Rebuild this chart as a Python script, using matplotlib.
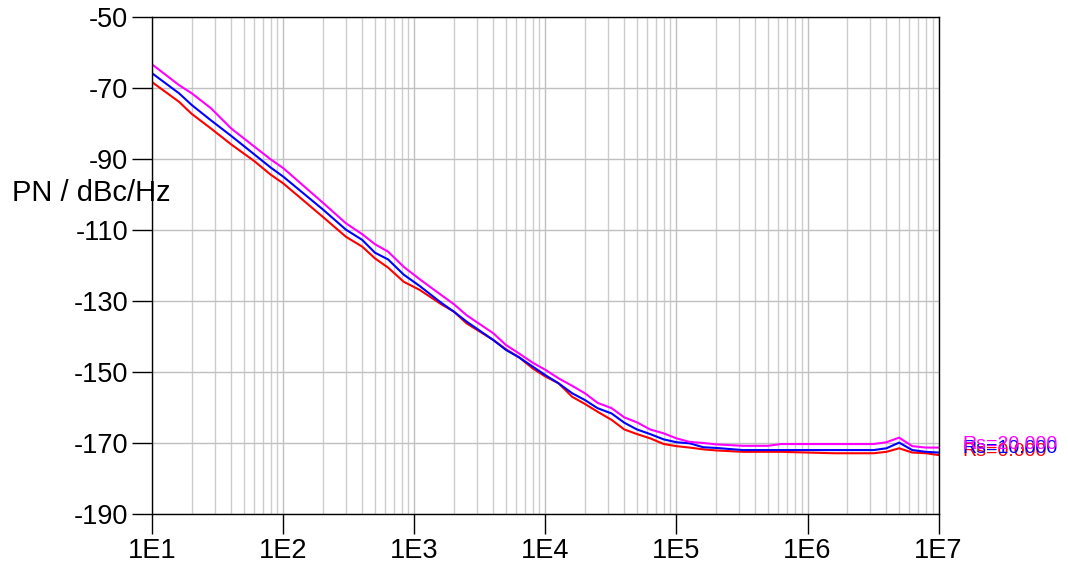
import numpy as np
import matplotlib
matplotlib.use('Agg')
from matplotlib import pyplot as plt
from matplotlib import ticker

plt.rcParams['font.family'] = ['Liberation Sans', 'DejaVu Sans']
plt.rcParams['axes.unicode_minus'] = False

# Offset frequencies in Hz.
FREQ_HZ = [10, 16, 20, 28, 40, 60, 80, 100, 200, 300, 400, 500, 630, 830,
           1100, 1600, 2000, 2500, 4000, 5000, 6300, 8000,
           1e4, 1.26e4, 1.6e4, 2e4, 2.5e4, 3.2e4, 4e4, 5e4, 6.3e4, 8e4,
           1e5, 1.26e5, 1.6e5, 2e5, 3.2e5, 5e5, 6.3e5,
           1.6e6, 2e6, 3.2e6, 4e6, 5e6, 6.3e6, 8e6, 1e7]

# Phase noise in dBc/Hz for the three Rs values.
PN_RS0 = [-68.3, -73.8, -77.2, -81.3, -85.8, -90.5, -94.3, -96.8, -106.2,
          -111.8, -114.6, -117.9, -120.5, -124.5,
          -126.8, -130.8, -132.9, -136.2, -140.9, -143.5, -145.8, -148.9,
          -151.2, -153.1, -156.9, -158.9, -161.1, -163.4, -166.1, -167.4,
          -168.6, -170.2,
          -170.8, -171.2, -171.7, -172.0, -172.4, -172.4, -172.4,
          -172.8, -172.8, -172.8, -172.4, -171.4, -172.6, -172.8, -173.3]

PN_RS10 = [-65.8, -71.4, -74.7, -79.0, -83.4, -88.6, -92.3, -94.9, -104.1,
           -109.8, -112.7, -116.3, -118.2, -122.5,
           -125.7, -130.4, -132.9, -135.7, -140.9, -143.7, -145.8, -148.4,
           -150.8, -153.1, -155.9, -157.8, -160.1, -161.6, -164.2, -166.1,
           -167.4, -168.9,
           -169.7, -170.0, -171.1, -171.3, -171.9, -171.9, -171.9,
           -171.9, -171.9, -171.9, -171.4, -169.8, -171.9, -172.4, -172.6]

PN_RS20 = [-63.3, -69.1, -71.4, -75.6, -81.3, -86.4, -90.0, -92.5, -102.2,
           -108.0, -111.1, -113.9, -116.0, -120.3,
           -123.8, -128.2, -130.8, -133.9, -139.0, -142.3, -144.7, -147.3,
           -149.3, -151.7, -153.8, -155.9, -158.6, -160.1, -162.7, -164.1,
           -166.1, -167.2,
           -168.6, -169.6, -169.9, -170.3, -170.7, -170.7, -170.2,
           -170.2, -170.2, -170.2, -169.7, -168.4, -170.8, -171.2, -171.2]

SERIES_LABELS = ['Rs=0.000', 'Rs=10.000', 'Rs=20.000']
SERIES_COLORS = ['#ff0000', '#0000ff', '#ff00ff']

X_TICKS = [1e1, 1e2, 1e3, 1e4, 1e5, 1e6, 1e7]
X_TICK_LABELS = ['1E1', '1E2', '1E3', '1E4', '1E5', '1E6', '1E7']
Y_TICKS = [-50, -70, -90, -110, -130, -150, -170, -190]

fig = plt.figure(figsize=(10.68, 5.70), dpi=100)
ax = fig.add_axes([0.1426, 0.0977, 0.7362, 0.8719])

for pn, color in zip([PN_RS0, PN_RS10, PN_RS20], SERIES_COLORS):
    ax.plot(FREQ_HZ, pn, color=color, linewidth=1.5)

ax.set_xscale('log')
ax.set_xlim(1e1, 1e7)
ax.set_ylim(-190, -50)

ax.set_xticks(X_TICKS)
ax.set_xticklabels(X_TICK_LABELS)
ax.xaxis.set_minor_locator(ticker.LogLocator(base=10, subs=np.arange(2, 10)))
ax.xaxis.set_minor_formatter(ticker.NullFormatter())

ax.set_yticks(Y_TICKS)
ax.yaxis.set_minor_locator(ticker.MultipleLocator(20, offset=10))

ax.tick_params(axis='both', which='major', direction='out', length=14.4,
               width=1, labelsize=19.5, pad=3)
ax.tick_params(axis='y', which='minor', direction='out', length=7.2, width=1)
ax.tick_params(axis='x', which='minor', length=0)

# Grid: vertical lines at every decade step, horizontal only at labelled values.
ax.grid(True, which='major', axis='both', color='#c0c0c0', linewidth=1)
ax.grid(True, which='minor', axis='x', color='#cccccc', linewidth=1)
ax.set_axisbelow(True)

for spine in ax.spines.values():
    spine.set_color('black')
    spine.set_linewidth(1)

# Series labels next to the right end of each curve.
for pn, color, label in zip([PN_RS0, PN_RS10, PN_RS20], SERIES_COLORS,
                            SERIES_LABELS):
    ax.text(1.03, pn[-1] + 1.0, label, color=color, fontsize=14,
            va='center', ha='left', transform=ax.get_yaxis_transform(),
            clip_on=False)

fig.text(0.011, 1 - 193 / 570, 'PN / dBc/Hz', fontsize=21,
         va='center', ha='left')

plt.savefig('out.png', dpi=100)
